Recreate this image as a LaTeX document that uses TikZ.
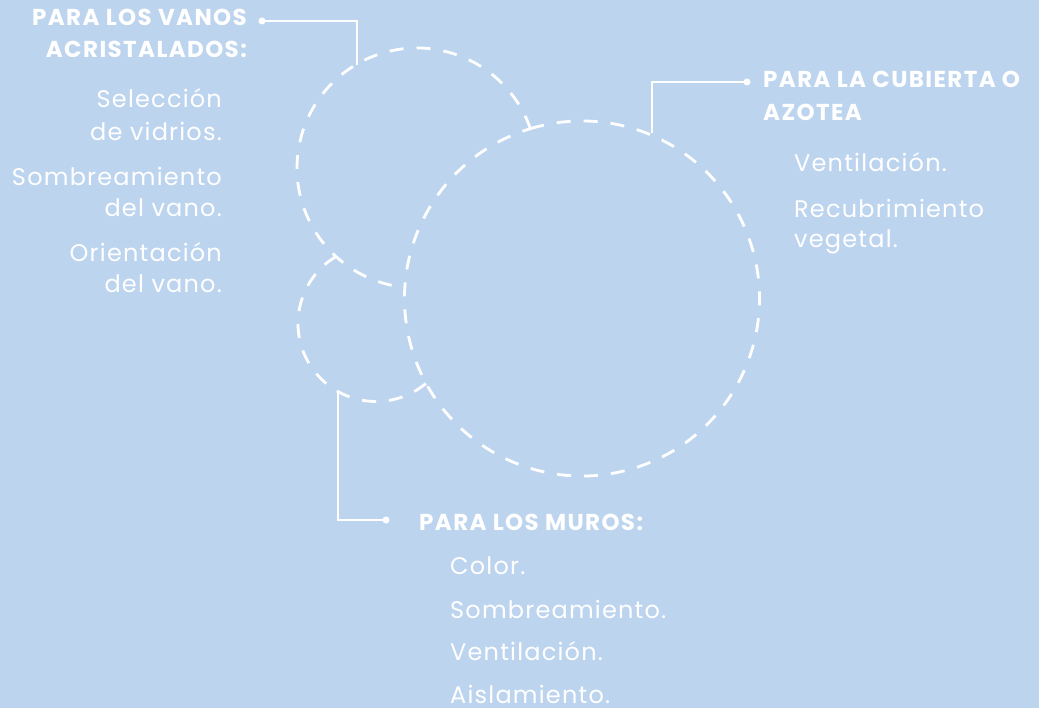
\documentclass[tikz,border=0pt]{standalone}
\usepackage{fontspec}
\setmainfont{Poppins}
\newfontfamily\lightfont{Poppins}[LetterSpace=5]
\newfontfamily\headfont{Poppins}[LetterSpace=6]
\definecolor{bgblue}{RGB}{189,212,239}
\begin{document}
\begin{tikzpicture}[x=1pt,y=-1pt,
  head/.style={font=\headfont\fontsize{23}{26}\selectfont\bfseries, text=white, inner sep=0pt},
  body/.style={font=\lightfont\fontsize{24}{28}\selectfont, text=white, inner sep=0pt},
  circ/.style={draw=white, line width=2.8pt, dash pattern=on 14pt off 13pt},
  conn/.style={draw=white, line width=2.4pt},
  dot/.style={circle, fill=white, inner sep=0pt, minimum size=7pt}]
\fill[bgblue] (0,0) rectangle (1039,708);
\useasboundingbox (0,0) rectangle (1039,708);

% circles
\coordinate (c1) at (417,168);
\coordinate (c2) at (582,298.5);
\coordinate (c3) at (376,323.5);
\draw[circ] (c2) ++(253.1:177.5) arc[start angle=253.1, end angle=613.1, radius=177.5];
\draw[circ] (c1) ++(-19.1:120) arc[start angle=-19.1, end angle=-264.2, radius=120];
\draw[circ] (c3) ++(239.1:78) arc[start angle=239.1, end angle=50, radius=78];

% connector ends on circles
\coordinate (k1) at (357,65);
\coordinate (k2) at (652,133);
\coordinate (k3) at (338,393);
\node[dot] (d1) at (262,21) {};
\node[dot] (d2) at (747,82) {};
\node[dot] (d3) at (386,520) {};
\draw[conn] (d1.center) -| (k1);
\draw[conn] (d2.center) -| (k2);
\draw[conn] (k3) |- (d3.center);

% left texts
\node[head, anchor=base east] (h1a) at (247,26) {PARA LOS VANOS};
\node[head, anchor=base east] (h1b) at (247,58) {ACRISTALADOS:};
\node[body, anchor=base east] (l1) at (222,108) {Selección};
\node[body, anchor=base east] (l2) at (222,141) {de vidrios.};
\node[body, anchor=base east] (l3) at (222,186) {Sombreamiento};
\node[body, anchor=base east] (l4) at (222,217) {del vano.};
\node[body, anchor=base east] (l5) at (222,262) {Orientación};
\node[body, anchor=base east] (l6) at (222,293) {del vano.};

% right texts
\node[head, anchor=base west] (h2a) at (763,88) {PARA LA CUBIERTA O};
\node[head, anchor=base west] (h2b) at (763,121) {AZOTEA};
\node[body, anchor=base west] (r1) at (794,172) {Ventilación.};
\node[body, anchor=base west] (r2) at (794,218) {Recubrimiento};
\node[body, anchor=base west] (r3) at (794,248) {vegetal.};

% bottom texts
\node[head, anchor=base west] (h3) at (419,530) {PARA LOS MUROS:};
\node[body, anchor=base west] (b1) at (450,574) {Color.};
\node[body, anchor=base west] (b2) at (450,618) {Sombreamiento.};
\node[body, anchor=base west] (b3) at (450,660) {Ventilación.};
\node[body, anchor=base west] (b4) at (450,703) {Aislamiento.};
\end{tikzpicture}
\end{document}
